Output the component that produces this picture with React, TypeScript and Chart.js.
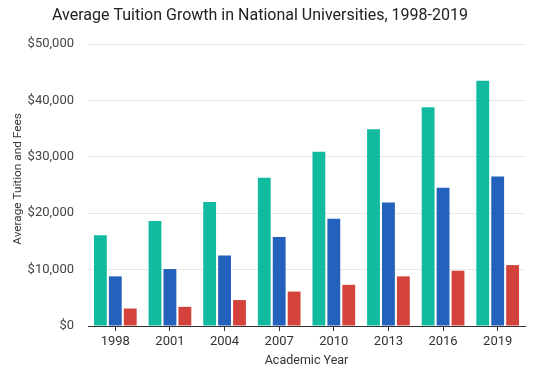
import React, { useEffect, useRef } from "react";
import { Chart, registerables } from "chart.js";

Chart.register(...registerables);

const years = ["1998", "2001", "2004", "2007", "2010", "2013", "2016", "2019"];
const seriesA = [16100, 18600, 22000, 26300, 30900, 34900, 38800, 43500];
const seriesB = [8800, 10100, 12500, 15800, 19000, 21900, 24500, 26500];
const seriesC = [3100, 3400, 4600, 6100, 7300, 8800, 9800, 10800];
const seriesNames = ["Series A", "Series B", "Series C"];
const colors = ["#12bb9f", "#2361bd", "#d4433b"];
const chartTitle = "Average Tuition Growth in National Universities, 1998-2019";
const yTitle = "Average Tuition and Fees";

const font = "Roboto, 'Noto Sans', sans-serif";

const titlePlugin = {
  id: "customTitle",
  afterDraw(chart: any) {
    const ctx = chart.ctx;
    ctx.save();
    ctx.font = `16px ${font}`;
    ctx.fillStyle = "#222";
    ctx.textAlign = "center";
    ctx.textBaseline = "middle";
    ctx.fillText(chartTitle, 252, 8);
    ctx.restore();
    ctx.save();
    ctx.translate(10, 171);
    ctx.rotate(-Math.PI / 2);
    ctx.font = `11.8px ${font}`;
    ctx.fillStyle = "#333";
    ctx.textAlign = "center";
    ctx.textBaseline = "middle";
    ctx.fillText(yTitle, 0, 0);
    ctx.restore();
  },
};

export default function App() {
  const ref = useRef<HTMLCanvasElement>(null);
  useEffect(() => {
    if (!ref.current) return;
    const chart = new Chart(ref.current, {
      type: "bar",
      data: {
        labels: years,
        datasets: [seriesA, seriesB, seriesC].map((d, i) => ({
          label: seriesNames[i],
          data: d,
          backgroundColor: colors[i],
          borderWidth: 0,
          categoryPercentage: 0.82,
          barPercentage: 0.86,
        })),
      },
      plugins: [titlePlugin],
      options: {
        animation: false,
        responsive: true,
        maintainAspectRatio: false,
        layout: { padding: { top: 36, right: 2, left: 0, bottom: 0 } },
        plugins: {
          legend: { display: false },
          tooltip: { enabled: false },
          title: { display: false },
        },
        scales: {
          x: {
            afterFit: (scale: any) => {
              scale.height = 40;
            },
            grid: {
              display: true,
              drawOnChartArea: false,
              drawTicks: true,
              tickLength: 5,
              offset: false,
              color: "#333",
            },
            border: { display: true, color: "#333", width: 1 },
            ticks: { color: "#333", font: { family: font, size: 13 }, padding: 3 },
            title: {
              display: true,
              text: "Academic Year",
              color: "#333",
              font: { family: font, size: 12.5 },
              padding: { top: 0, bottom: -2 },
            },
          },
          y: {
            min: 0,
            max: 50000,
            afterFit: (scale: any) => {
              scale.width = 80;
            },
            ticks: {
              stepSize: 10000,
              color: "#444",
              font: { family: font, size: 13 },
              padding: 14,
              callback: (v: any) => "$" + Number(v).toLocaleString("en-US"),
            },
            grid: { color: "#e8e8e8", drawTicks: false },
            border: { display: false },
            title: { display: false },
          },
        },
      },
    });
    return () => chart.destroy();
  }, []);
  return (
    <div style={{ width: 519, height: 358, position: "relative" }}>
      <canvas ref={ref} />
    </div>
  );
}
